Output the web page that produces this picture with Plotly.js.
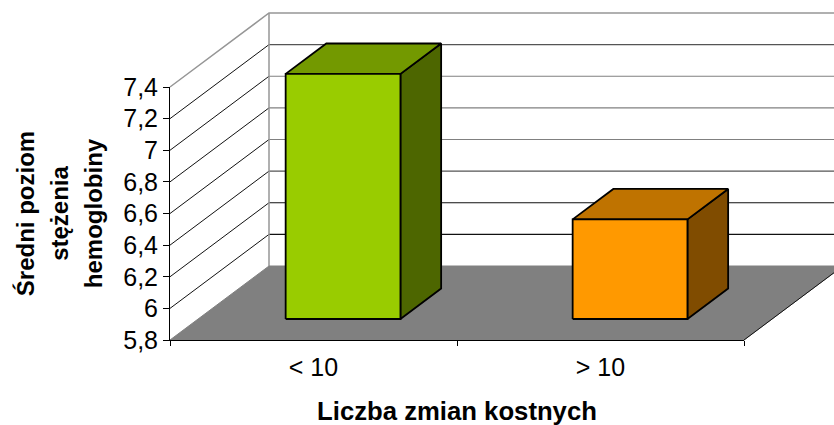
<!DOCTYPE html>
<html><head><meta charset="utf-8">
<script src="https://cdn.plot.ly/plotly-3.0.1.min.js"></script>
<style>html,body{margin:0;padding:0;background:#fff}</style>
</head><body><div id="chart" style="width:834px;height:425px"></div>
<script>
const categories = ['< 10', '> 10'];
const values = [7.35, 6.43];
const yTicks = [5.8, 6, 6.2, 6.4, 6.6, 6.8, 7, 7.2, 7.4];
const yTickLabels = ['5,8', '6', '6,2', '6,4', '6,6', '6,8', '7', '7,2', '7,4'];
const frontColors = ['#99CC00', '#FF9900'];
const topColors = ['#739900', '#BF7300'];
const sideColors = ['#4D6600', '#804C00'];
const backGridColors = ['#808080', '#111111', '#111111', '#555555', '#808080', '#808080', '#808080', '#555555', '#111111'];

const yMin = 5.8, yMax = 7.4, xMin = -0.5, xMax = 1.5;
const plotL = 170, plotR = 744, plotT = 87, plotB = 340, W = 834, H = 425;
const pxX = (plotR - plotL) / (xMax - xMin), pxY = (plotB - plotT) / (yMax - yMin);
const depthX = 99 / pxX, depthY = 74 / pxY;
const barHalf = 0.2, barOffset = 0.005, barDepthFront = 0.284, barDepthBack = 0.695;
const P = (x, y, d) => [x + d * depthX, y + d * depthY];

function poly(points, fill, lineColor, lineWidth) {
  const closed = fill ? points.concat([points[0]]) : points;
  return {
    type: 'scatter', mode: 'lines', xaxis: 'x', yaxis: 'y', hoverinfo: 'skip', showlegend: false,
    x: closed.map(p => p[0]), y: closed.map(p => p[1]),
    fill: fill ? 'toself' : 'none', fillcolor: fill || undefined,
    line: {color: lineColor, width: lineWidth}
  };
}

const traces = [];
yTicks.forEach((v, i) => {
  if (i === 0 || i === yTicks.length - 1) return;
  traces.push(poly([P(xMin, v, 0), P(xMin, v, 1)], null, '#111111', 1));
});
yTicks.forEach((v, i) => {
  if (i === 0 || i === yTicks.length - 1) return;
  traces.push(poly([P(xMin, v, 1), P(xMax, v, 1)], null, backGridColors[i], 1.2));
});
traces.push(poly([P(xMin, yMax, 0), P(xMin, yMax, 1), P(xMax, yMax, 1)], null, '#969696', 1.5));
traces.push(poly([P(xMin, yMax, 1), P(xMin, yMin, 1)], null, '#969696', 1.5));
traces.push(poly([P(xMin, yMin, 0), P(xMax, yMin, 0), P(xMax, yMin, 1), P(xMin, yMin, 1)], '#808080', '#808080', 1));
traces.push(poly([P(xMax, yMin, 0), P(xMax, yMin, 1)], null, '#111111', 1));
values.forEach((val, i) => {
  const l = i + barOffset - barHalf, r = i + barOffset + barHalf;
  const df = barDepthFront, db = barDepthBack;
  traces.push(poly([P(r, yMin, df), P(r, yMin, db), P(r, val, db), P(r, val, df)], sideColors[i], '#000', 1.8));
  traces.push(poly([P(l, val, df), P(r, val, df), P(r, val, db), P(l, val, db)], topColors[i], '#000', 1.8));
  traces.push(poly([P(l, yMin, df), P(r, yMin, df), P(r, val, df), P(l, val, df)], frontColors[i], '#000', 1.8));
});
// carries the visible axes
traces.push({type: 'scatter', mode: 'none', x: [0, 1], y: values, xaxis: 'x2', yaxis: 'y2', hoverinfo: 'skip', showlegend: false});

const yTitle = ['Średni poziom', 'stężenia', 'hemoglobiny']
  .map(t => '<span style="font-size:24px">' + t + '</span>').join('<br>');

const layout = {
  width: W, height: H,
  margin: {l: 0, r: 0, t: 0, b: 0, pad: 0},
  paper_bgcolor: '#fff', plot_bgcolor: 'rgba(0,0,0,0)',
  showlegend: false,
  font: {family: '"Liberation Sans", Arial, sans-serif', color: '#000'},
  // full-page drawing scale, hidden; same units per pixel as the visible axes
  xaxis: {visible: false, domain: [0, 1], range: [xMin - plotL / pxX, xMax + (W - plotR) / pxX], anchor: 'y'},
  yaxis: {visible: false, domain: [0, 1], range: [yMin - (H - plotB) / pxY, yMax + plotT / pxY], anchor: 'x'},
  xaxis2: {
    domain: [plotL / W, plotR / W], anchor: 'y2',
    range: [xMin, xMax], showgrid: false, zeroline: false,
    showline: true, linecolor: '#000', linewidth: 1,
    tickmode: 'array', tickvals: [0, 1], ticktext: categories,
    ticks: '', tickfont: {size: 25}, ticklabelstandoff: 5,
    minor: {tickmode: 'array', tickvals: [-0.5, 0.5, 1.5], ticks: 'outside', ticklen: 5, tickwidth: 1, tickcolor: '#000', showgrid: false},
    title: {text: 'Liczba zmian kostnych', font: {size: 25.7, weight: 'bold'}, standoff: 23}
  },
  yaxis2: {
    domain: [(H - plotB) / H, (H - plotT) / H], anchor: 'x2',
    range: [yMin, yMax], showgrid: false, zeroline: false,
    showline: true, linecolor: '#000', linewidth: 1,
    tickmode: 'array', tickvals: yTicks, ticktext: yTickLabels,
    ticks: 'outside', ticklen: 6, tickwidth: 1, tickcolor: '#000', tickfont: {size: 25},
    title: {text: yTitle, font: {size: 26, weight: 'bold'}, standoff: 13}
  }
};
Plotly.newPlot('chart', traces, layout, {displayModeBar: false, staticPlot: true});
</script>
</body></html>
